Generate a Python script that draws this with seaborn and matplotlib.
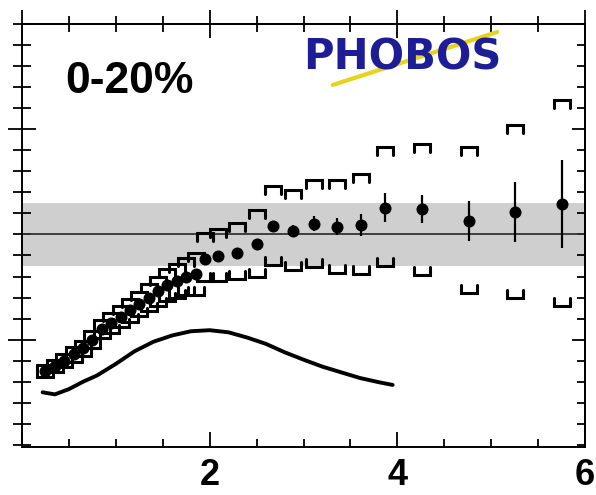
import numpy as np
import pandas as pd
import matplotlib
matplotlib.use("Agg")
import matplotlib.pyplot as plt
import seaborn as sns
from matplotlib.ticker import MultipleLocator, FixedLocator, NullFormatter

# ---------------- data ----------------
pt = [0.25, 0.35, 0.45, 0.55, 0.65, 0.75, 0.85, 0.95, 1.05, 1.15, 1.25, 1.35,
      1.45, 1.55, 1.65, 1.75, 1.85, 1.95, 2.09, 2.29, 2.50, 2.68, 2.89, 3.11,
      3.36, 3.61, 3.87, 4.26, 4.76, 5.25, 5.75]
ratio = [0.35, 0.375, 0.40, 0.43, 0.46, 0.50, 0.55, 0.58, 0.61, 0.64, 0.67, 0.70,
         0.73, 0.76, 0.78, 0.80, 0.81, 0.885, 0.898, 0.914, 0.956, 1.04, 1.017, 1.051,
         1.037, 1.045, 1.127, 1.12, 1.064, 1.107, 1.146]
stat_err = [0.01, 0.01, 0.01, 0.01, 0.01, 0.01, 0.01, 0.01, 0.01, 0.01, 0.01, 0.01,
            0.01, 0.01, 0.01, 0.01, 0.012, 0.012, 0.012, 0.015, 0.015, 0.02, 0.03, 0.035,
            0.04, 0.05, 0.068, 0.067, 0.097, 0.142, 0.21]
sys_minus = [0.028, 0.03, 0.032, 0.034, 0.036, 0.04, 0.043, 0.046, 0.05, 0.054, 0.058, 0.063,
             0.068, 0.074, 0.08, 0.09, 0.10, 0.105, 0.118, 0.124, 0.156, 0.185, 0.187, 0.208,
             0.218, 0.234, 0.276, 0.313, 0.343, 0.411, 0.488]
sys_plus = [0.028, 0.03, 0.032, 0.034, 0.036, 0.04, 0.043, 0.046, 0.05, 0.054, 0.058, 0.063,
            0.068, 0.074, 0.08, 0.09, 0.10, 0.121, 0.127, 0.139, 0.159, 0.19, 0.193, 0.209,
            0.223, 0.243, 0.289, 0.312, 0.352, 0.412, 0.494]

curve_pt = [0.22, 0.35, 0.5, 0.65, 0.8, 1.0, 1.2, 1.4, 1.6, 1.8, 2.0, 2.2, 2.4,
            2.6, 2.8, 3.0, 3.2, 3.4, 3.6, 3.8, 3.95]
curve_ratio = [0.25, 0.24, 0.265, 0.300, 0.33, 0.385, 0.445, 0.49, 0.52, 0.54, 0.545,
               0.535, 0.51, 0.48, 0.44, 0.405, 0.372, 0.345, 0.318, 0.298, 0.285]

band_center = 1.0
band_halfwidth = 0.15
label_text = "0-20%"
xtick_vals = [0, 2, 4, 6]
xtick_labels = ["", "2", "4", "6"]
ytick_major = [0.5, 1.5]

# ---------------- style ----------------
sns.set_theme(style="white")
plt.rcParams["font.family"] = ["Liberation Sans", "DejaVu Sans"]

W, H = 596, 495
fig = plt.figure(figsize=(W / 100, H / 100), dpi=100)
ax = fig.add_axes([22 / W, 1 - 447 / H, (585 - 22) / W, (447 - 24) / H])

df = pd.DataFrame({"pt": pt, "ratio": ratio, "stat": stat_err,
                   "sm": sys_minus, "sp": sys_plus})
cdf = pd.DataFrame({"pt": curve_pt, "ratio": curve_ratio})

# band and unity line
ax.axhspan(band_center - band_halfwidth, band_center + band_halfwidth,
           color="#cfcfcf", lw=0, zorder=0)
ax.axhline(band_center, color="#333333", lw=1.3, zorder=1)

# theory curve
sns.lineplot(data=cdf, x="pt", y="ratio", color="black", lw=2.8, ax=ax, zorder=3)

# systematic brackets
hw = 0.085
leg = 0.038
xs, ys = [], []
for x, y, m, p in zip(df.pt, df.ratio, df.sm, df.sp):
    top = y + p
    bot = y - m
    L = min(leg, (top - bot) / 2)
    xs += [x - hw, x - hw, x + hw, x + hw, np.nan]
    ys += [top - L, top, top, top - L, np.nan]
    xs += [x - hw, x - hw, x + hw, x + hw, np.nan]
    ys += [bot + L, bot, bot, bot + L, np.nan]
ax.plot(xs, ys, color="black", lw=2.2, solid_joinstyle="miter", zorder=4)

# statistical errors and points
ax.errorbar(df.pt, df.ratio, yerr=df.stat, fmt="none", ecolor="black",
            elinewidth=1.6, capsize=0, zorder=5)
sns.scatterplot(data=df, x="pt", y="ratio", color="black", s=75, marker="o",
                linewidth=0, ax=ax, zorder=6)

# axes limits and ticks
ax.set_xlim(0, 6)
ax.set_ylim(-0.01, 2.0)
ax.set_xlabel("")
ax.set_ylabel("")
ax.xaxis.set_major_locator(FixedLocator(xtick_vals))
ax.set_xticklabels(xtick_labels)
ax.xaxis.set_minor_locator(MultipleLocator(0.5))
ax.yaxis.set_major_locator(FixedLocator(ytick_major))
ax.yaxis.set_minor_locator(MultipleLocator(0.1))
ax.yaxis.set_major_formatter(NullFormatter())

ax.tick_params(axis="x", which="both", direction="in", top=False, bottom=True,
               color="black", width=1.3, labelsize=26, pad=8, labelcolor="black")
ax.tick_params(axis="x", which="major", length=11)
ax.tick_params(axis="x", which="minor", length=6)
ax.tick_params(axis="y", which="both", direction="inout", left=True, right=False,
               color="black", width=1.3)
ax.tick_params(axis="y", which="major", length=20)
ax.tick_params(axis="y", which="minor", length=13.5)
for lab in ax.get_xticklabels():
    lab.set_fontweight("bold")

for s in ax.spines.values():
    s.set_color("black")
    s.set_linewidth(1.4)

# top and right ticks
secx = ax.secondary_xaxis("top")
secx.xaxis.set_major_locator(FixedLocator(xtick_vals))
secx.xaxis.set_minor_locator(MultipleLocator(0.5))
secx.xaxis.set_major_formatter(NullFormatter())
secx.tick_params(axis="x", which="both", direction="inout", color="black", width=1.3)
secx.tick_params(axis="x", which="major", length=20)
secx.tick_params(axis="x", which="minor", length=11)
secx.spines["top"].set_linewidth(1.4)

secy = ax.secondary_yaxis("right")
secy.yaxis.set_major_locator(FixedLocator(ytick_major))
secy.yaxis.set_minor_locator(MultipleLocator(0.1))
secy.yaxis.set_major_formatter(NullFormatter())
secy.tick_params(axis="y", which="both", direction="in", color="black", width=1.3)
secy.tick_params(axis="y", which="major", length=9.5)
secy.tick_params(axis="y", which="minor", length=6)
secy.spines["right"].set_linewidth(1.4)

# annotations
ax.text(0.076, 0.837, label_text, transform=ax.transAxes, fontsize=32,
        fontweight="bold", color="black", ha="left", va="baseline", zorder=7)

# PHOBOS logo approximation
ax.plot([0.552, 0.844], [0.856, 0.981], transform=ax.transAxes,
        color="#e8d21c", lw=3, solid_capstyle="round", zorder=7)
ax.text(0.675, 0.92, "PHOBOS", transform=ax.transAxes, fontsize=30,
        fontweight="bold", color="#1d1d96", ha="center", va="center",
        family=["DejaVu Sans"], zorder=8)

fig.savefig("out.png", dpi=100)
